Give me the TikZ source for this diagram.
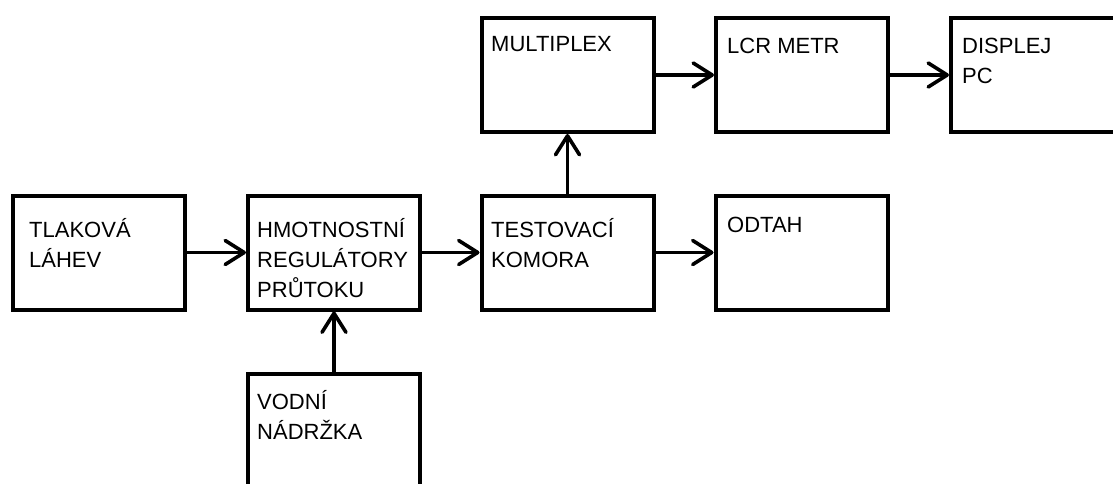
\documentclass[tikz,border=0pt]{standalone}
\usepackage{fontspec}
\setmainfont{Liberation Sans}
\usetikzlibrary{arrows.meta}
\tikzset{
  blk/.style={draw, line width=4pt, minimum width=172pt, minimum height=114pt, inner sep=0pt},
  lbl/.style={anchor=base west, inner sep=0pt, font=\fontsize{22}{30}\selectfont},
  arr/.style={line width=3.6pt, -{Straight Barb[length=19pt,width=24pt,line cap=round,line join=round]}}
}
\newcommand{\twol}[1]{\begin{tabular}[t]{@{}l@{}}#1\end{tabular}}
\begin{document}
\begin{tikzpicture}[x=1pt,y=-1pt]
\useasboundingbox (0,0) rectangle (1113,484);
\clip (0,0) rectangle (1113,484);
\fill[white] (0,0) rectangle (1113,484);
% boxes
\node[blk] (tlak) at (99,252.5) {};
\node[blk] (hmot) at (334,252.5) {};
\node[blk] (test) at (567.5,252.5) {};
\node[blk] (odtah) at (801.5,252.5) {};
\node[blk] (mux) at (567.5,75) {};
\node[blk] (lcr) at (802,75) {};
\node[blk] (disp) at (1037,75) {};
\node[blk] (voda) at (334,431) {};
% labels
\node[lbl] (tlakt) at (29,237) {\twol{TLAKOVÁ\\LÁHEV}};
\node[lbl] (hmott) at (257,237) {\twol{HMOTNOSTNÍ\\REGULÁTORY\\PRŮTOKU}};
\node[lbl] (testt) at (491,237) {\twol{TESTOVACÍ\\KOMORA}};
\node[lbl] (odtaht) at (727,232) {ODTAH};
\node[lbl] (muxt) at (491,52) {MULTIPLEX};
\node[lbl] (lcrt) at (727,54) {LCR METR};
\node[lbl] (dispt) at (962,54) {\twol{DISPLEJ\\PC}};
\node[lbl] (vodat) at (257,409) {\twol{VODNÍ\\NÁDRŽKA}};
% connectors
\draw[arr] (tlak.east) -- (hmot.west);
\draw[arr] (hmot.east) -- (test.west);
\draw[arr] (test.east) -- (odtah.west);
\draw[arr] (test.north) -- (mux.south);
\draw[arr] (mux.east) -- (lcr.west);
\draw[arr] (lcr.east) -- (disp.west);
\draw[arr] (voda.north) -- (hmot.south);
\end{tikzpicture}
\end{document}
